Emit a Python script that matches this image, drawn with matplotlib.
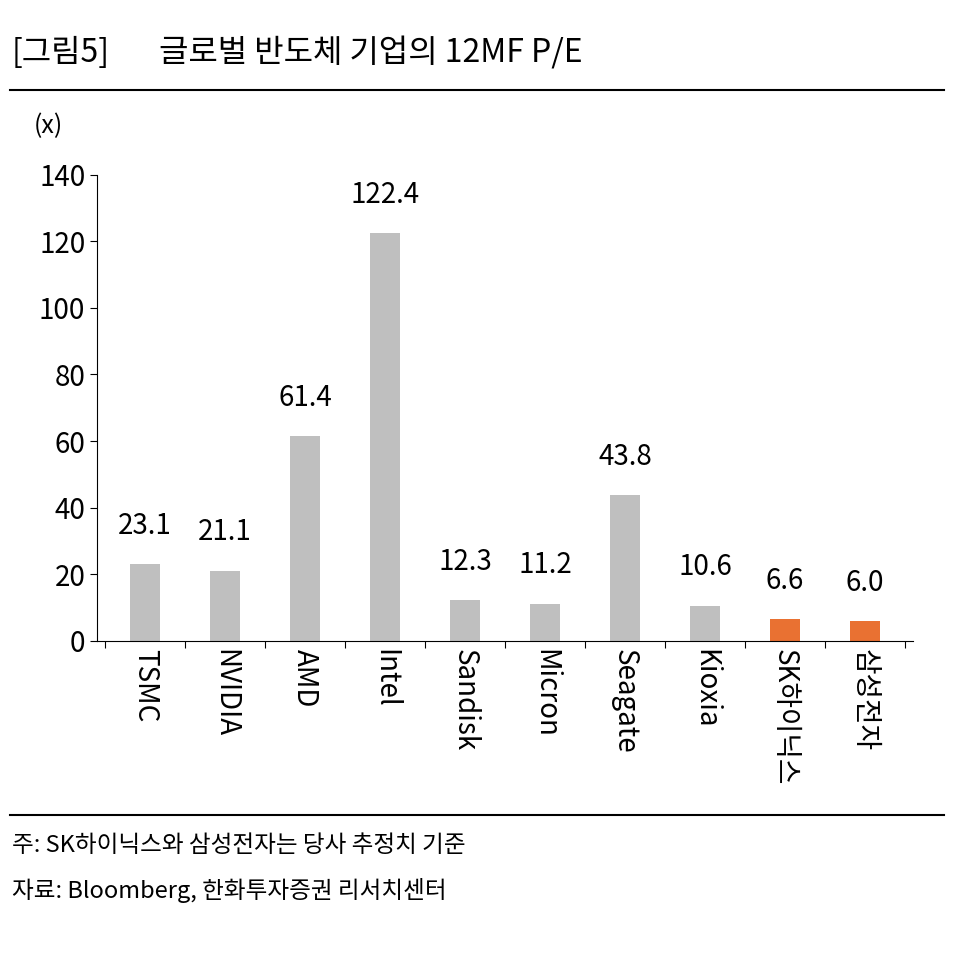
import matplotlib
matplotlib.use("Agg")
import matplotlib.pyplot as plt
from matplotlib.lines import Line2D

plt.rcParams['font.family'] = ['Noto Sans CJK KR', 'DejaVu Sans']
plt.rcParams['font.weight'] = 'light'

companies = ['TSMC', 'NVIDIA', 'AMD', 'Intel', 'Sandisk', 'Micron', 'Seagate', 'Kioxia', 'SK하이닉스', '삼성전자']
pe = [23.1, 21.1, 61.4, 122.4, 12.3, 11.2, 43.8, 10.6, 6.6, 6.0]
colors = ['#BFBFBF'] * 8 + ['#E97132'] * 2

fig = plt.figure(figsize=(9.61, 9.55), dpi=100)
ax = fig.add_axes([0.101, 0.329, 0.849, 0.488])

x = list(range(len(companies)))
ax.bar(x, pe, width=0.37, color=colors)
for xi, v in zip(x, pe):
    ax.text(xi, v + 7, f'{v:.1f}', ha='center', va='bottom', fontsize=20, clip_on=False)

ax.set_xlim(-0.6, 9.6)
ax.set_ylim(0, 140)
ax.set_yticks(range(0, 141, 20))
ax.tick_params(axis='y', labelsize=20, length=5, direction='out')
ax.tick_params(axis='x', length=5, direction='out')
ax.set_xticks([i - 0.5 for i in range(11)], minor=False)
ax.set_xticklabels([])
ax.set_xticks(x, minor=True)
ax.set_xticklabels(companies, minor=True, rotation=-90, fontsize=20, va='top')
ax.tick_params(axis='x', which='minor', length=0, pad=6)
for s in ['top', 'right']:
    ax.spines[s].set_visible(False)
ax.text(-0.06, 1.09, '(x)', transform=ax.transAxes, fontsize=18, ha='center')

fig.text(0.012, 0.945, '[그림5]', fontsize=23, va='center')
fig.text(0.165, 0.945, '글로벌 반도체 기업의 12MF P/E', fontsize=23, va='center')
fig.add_artist(Line2D([0.01, 0.982], [0.906, 0.906], color='black', lw=1.5))
fig.add_artist(Line2D([0.01, 0.982], [0.147, 0.147], color='black', lw=1.5))
fig.text(0.012, 0.115, '주: SK하이닉스와 삼성전자는 당사 추정치 기준', fontsize=17, va='center')
fig.text(0.012, 0.068, '자료: Bloomberg, 한화투자증권 리서치센터', fontsize=17, va='center')

fig.savefig('out.png', dpi=100)
